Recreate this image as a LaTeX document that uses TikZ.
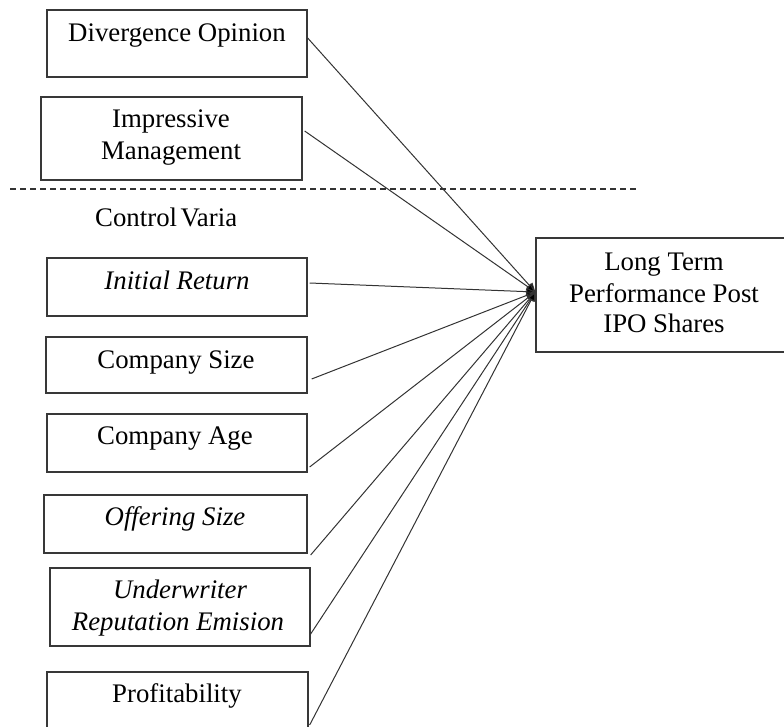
\documentclass[tikz,border=0pt]{standalone}
\usepackage{fontspec}
\setmainfont{Liberation Serif}
\usetikzlibrary{arrows.meta}
\definecolor{edge}{HTML}{383838}
\definecolor{wire}{HTML}{333333}
\tikzset{
  box/.style={draw=edge, line width=1.3pt, minimum width=#1, inner sep=0pt},
  txt/.style={anchor=base, inner sep=0pt, font=\fontsize{26.8}{31}\selectfont},
  itxt/.style={txt, font=\fontsize{26.8}{31}\selectfont\itshape},
  link/.style={draw=wire, line width=1pt, -{Triangle[length=9pt,width=8pt,fill=black]}},
  sep/.style={draw=wire, line width=1.1pt, dash pattern=on 6pt off 4pt}
}
\begin{document}
\begin{tikzpicture}[x=1pt,y=-1pt]
\useasboundingbox (0,0) rectangle (784,727);
\clip (0,0) rectangle (784,727);
% boxes
\node[box=260pt, minimum height=67pt] (div) at (177,43.5) {};
\node[box=261pt, minimum height=83pt] (imp) at (171.5,138.5) {};
\node[box=260pt, minimum height=58pt] (ir) at (177,287) {};
\node[box=261pt, minimum height=56pt] (cs) at (176.5,365) {};
\node[box=260pt, minimum height=58pt] (ca) at (177,443) {};
\node[box=263pt, minimum height=58pt] (os) at (175.5,524) {};
\node[box=260pt, minimum height=78pt] (uw) at (180,607) {};
\node[box=261pt, minimum height=88pt] (pr) at (177.5,716) {};
\node[box=250pt, minimum height=114pt] (lt) at (661,295) {};
% texts
\node[txt] (tdiv) at (177,42) {Divergence Opinion};
\node[txt] (timp1) at (171,128) {Impressive};
\node[txt] (timp2) at (171,160) {Management};
\begin{scope}
\clip (0,195) rectangle (235.5,240);
\node[txt, anchor=base west] (tcv) at (95,227) {\spaceskip=3.5pt Control Varia};
\end{scope}
\node[itxt] (tir) at (177,290) {Initial Return};
\node[txt] (tcs) at (176,368) {Company Size};
\node[txt] (tca) at (175,444) {Company Age};
\node[itxt] (tos) at (175,525) {Offering Size};
\node[itxt] (tuw1) at (180,598) {Underwriter};
\node[itxt] (tuw2) at (178,630) {Reputation Emision};
\node[txt] (tpr) at (177,702) {Profitability};
\node[txt] (tlt1) at (664,270) {Long Term};
\node[txt] (tlt2) at (664,302) {Performance Post};
\node[txt] (tlt3) at (664,332) {IPO Shares};
% dashed separator
\coordinate (dl) at (10,189);
\coordinate (dr) at (637,189);
\draw[sep] (dl) -- (dr);
% connectors
\coordinate (tip) at ([yshift=3pt]lt.west);
\draw[link] ([yshift=5.5pt]div.east) -- (tip);
\draw[link] ([xshift=2pt,yshift=7.5pt]imp.east) -- (tip);
\draw[link] ([xshift=2pt,yshift=4pt]ir.east) -- (tip);
\draw[link] ([xshift=4pt,yshift=-14pt]cs.east) -- (tip);
\draw[link] ([xshift=2pt,yshift=-24pt]ca.east) -- (tip);
\draw[link] ([xshift=3pt,yshift=-31pt]os.east) -- (tip);
\draw[link] ([xshift=0pt,yshift=-27pt]uw.east) -- (tip);
\draw[link] ([xshift=1pt,yshift=-9pt]pr.east) -- (tip);
\end{tikzpicture}
\end{document}
